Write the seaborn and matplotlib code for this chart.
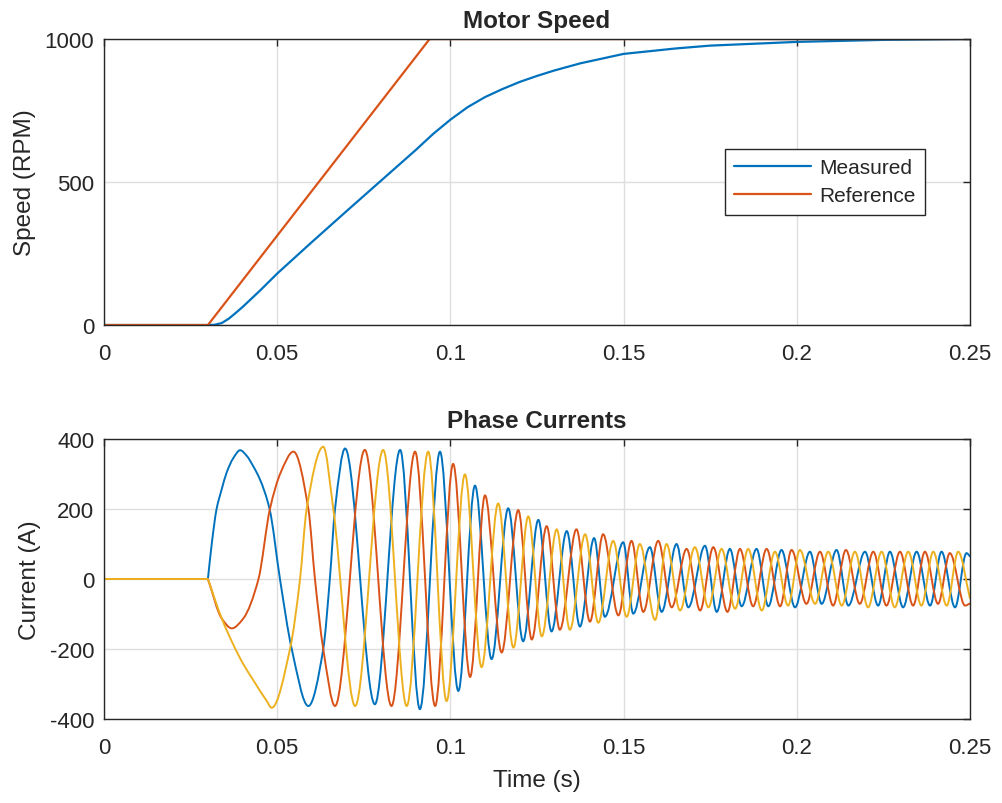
import numpy as np
import pandas as pd
import matplotlib
matplotlib.use("Agg")
import matplotlib.pyplot as plt
from matplotlib.path import Path
from matplotlib.patches import PathPatch
import seaborn as sns

# --- motor speed (RPM) ---
ref_t = [0.0, 0.030, 0.094, 0.25]
ref_speed = [0, 0, 1000, 1000]

meas_t = [0.0, 0.030, 0.032, 0.034, 0.036, 0.038, 0.040, 0.045, 0.050, 0.060, 0.070,
          0.080, 0.090, 0.095, 0.100, 0.105, 0.110, 0.115, 0.120, 0.125, 0.130,
          0.1375, 0.150, 0.165, 0.175, 0.200, 0.225, 0.250]
meas_speed = [0, 0, 1, 7, 22, 42, 63, 120, 180, 290, 398,
              505, 612, 668, 718, 762, 797, 825, 850, 871, 890,
              915, 948, 967, 977, 990, 997, 1000]

# --- phase currents (A): start, turning points and a few grid crossings ---
ia_t = [0.0, 0.0300, 0.0311, 0.0325, 0.0340, 0.0354, 0.0373, 0.0393, 0.0412, 0.0431,
        0.0450, 0.0478, 0.0508, 0.0542, 0.0590,
        0.0633, 0.0652, 0.0667, 0.0696, 0.0782, 0.0855, 0.0912, 0.0970, 0.1023,
        0.1071, 0.1119, 0.1167, 0.1210, 0.1254, 0.1292, 0.1336, 0.1374, 0.1415,
        0.1446, 0.1499, 0.1528, 0.1576, 0.1610, 0.1653, 0.1687, 0.1735, 0.1769,
        0.1807, 0.1841, 0.1884, 0.1918, 0.1956, 0.1995, 0.2038, 0.2072, 0.2115,
        0.2149, 0.2197, 0.2235, 0.2269, 0.2307, 0.2346, 0.2385, 0.2418, 0.2457,
        0.2490, 0.2500]
ia = [0, 0, 100, 200, 257, 304, 345, 368, 352, 322,
      285, 200, 0, -200, -363,
      -200, 0, 200, 373, -358, 369, -372, 364, -320,
      267, -229, 202, -178, 169, -150, 137, -136, 117,
      -108, 105, -99, 91, -94, 100, -81, 95, -94,
      86, -78, 86, -78, 83, -81, 78, -71, 83,
      -76, 78, -76, 78, -81, 78, -76, 78, -81,
      74, 65]

ib_t = [0.0, 0.0300, 0.0340, 0.0369, 0.0402, 0.0446, 0.0479, 0.0510, 0.0547, 0.0590,
        0.0609, 0.0633, 0.0667, 0.0753, 0.0830, 0.0898, 0.0956, 0.1008, 0.1057,
        0.1100, 0.1148, 0.1196, 0.1235, 0.1278, 0.1316, 0.1364, 0.1403, 0.1441,
        0.1485, 0.1523, 0.1557, 0.1600, 0.1639, 0.1682, 0.1721, 0.1759, 0.1800,
        0.1836, 0.1874, 0.1913, 0.1952, 0.1985, 0.2028, 0.2067, 0.2105, 0.2142,
        0.2182, 0.2221, 0.2259, 0.2298, 0.2336, 0.2370, 0.2408, 0.2442, 0.2486,
        0.2500]
ib = [0, 0, -113, -141, -113, 0, 200, 304, 364, 200,
      0, -200, -363, 369, -363, 364, -363, 329, -280,
      239, -210, 197, -173, 151, -145, 142, -122, 128,
      -104, 109, -94, 109, -81, 86, -90, 91, -94,
      86, -78, 86, -78, 83, -71, 78, -76, 83,
      -71, 78, -76, 78, -76, 78, -71, 74, -76,
      -70]

ic_t = [0.0, 0.0300, 0.0340, 0.0373, 0.0402, 0.0431, 0.0470, 0.0484, 0.0537, 0.0566,
        0.0585, 0.0633,
        0.0662, 0.0725, 0.0806, 0.0874, 0.0936, 0.0989, 0.1042, 0.1090, 0.1138,
        0.1182, 0.1225, 0.1264, 0.1307, 0.1345, 0.1389, 0.1427, 0.1470, 0.1509,
        0.1547, 0.1591, 0.1624, 0.1663, 0.1706, 0.1745, 0.1783, 0.1822, 0.1860,
        0.1899, 0.1937, 0.1975, 0.2009, 0.2053, 0.2091, 0.2130, 0.2168, 0.2206,
        0.2245, 0.2283, 0.2322, 0.2360, 0.2394, 0.2433, 0.2466, 0.2500]
ic = [0, 0, -113, -187, -243, -289, -349, -368, -200, 0,
      200, 378,
      200, -363, 369, -363, 364, -349, 299, -252, 216,
      -196, 179, -164, 142, -145, 128, -125, 109, -108,
      100, -117, 100, -90, 91, -81, 86, -85, 86,
      -90, 78, -76, 83, -71, 78, -76, 78, -81,
      78, -81, 78, -76, 78, -76, 78, -55]

x_ticks = [0, 0.05, 0.1, 0.15, 0.2, 0.25]
x_labels = ["0", "0.05", "0.1", "0.15", "0.2", "0.25"]

blue = "#0072BD"
orange = "#D95319"
yellow = "#EDB120"
dark = "#262626"


def smooth_trace(ax, t, v, color, lw):
    # straight lead-in (flat part), then a smooth curve through the read points
    # (Bezier segments with monotone-cubic tangents, flat at the turning points)
    t = np.asarray(t, float)
    v = np.asarray(v, float)
    tt, vv = t[1:], v[1:]
    h = np.diff(tt)
    d = np.diff(vv) / h
    m = np.zeros_like(vv)
    m[0] = d[0]
    m[-1] = d[-1]
    for k in range(1, len(vv) - 1):
        if d[k - 1] * d[k] > 0:
            w1 = 2 * h[k] + h[k - 1]
            w2 = h[k] + 2 * h[k - 1]
            m[k] = (w1 + w2) / (w1 / d[k - 1] + w2 / d[k])
    verts = [(t[0], v[0]), (tt[0], vv[0])]
    codes = [Path.MOVETO, Path.LINETO]
    for k in range(len(h)):
        verts += [(tt[k] + h[k] / 3, vv[k] + m[k] * h[k] / 3),
                  (tt[k + 1] - h[k] / 3, vv[k + 1] - m[k + 1] * h[k] / 3),
                  (tt[k + 1], vv[k + 1])]
        codes += [Path.CURVE4] * 3
    ax.add_patch(PathPatch(Path(verts, codes), facecolor="none", edgecolor=color,
                           linewidth=lw, capstyle="round", joinstyle="round"))


sns.set_style("white")
plt.rcParams['font.family'] = ['Liberation Sans', 'DejaVu Sans']
plt.rcParams['axes.unicode_minus'] = False
plt.rcParams['text.color'] = dark
plt.rcParams['axes.labelcolor'] = dark
plt.rcParams['xtick.color'] = dark
plt.rcParams['ytick.color'] = dark

fig = plt.figure(figsize=(10.02, 8.04), dpi=100)
ax1 = fig.add_axes([0.1038, 0.5945, 0.8642, 0.3557])
ax2 = fig.add_axes([0.1038, 0.1045, 0.8642, 0.3482])

# Motor speed
sns.lineplot(x=meas_t, y=meas_speed, ax=ax1, color=blue, linewidth=1.6, label="Measured")
sns.lineplot(x=ref_t, y=ref_speed, ax=ax1, color=orange, linewidth=1.6, label="Reference")
ax1.set_ylim(0, 1000)
ax1.set_yticks([0, 500, 1000])
ax1.set_title("Motor Speed", fontsize=17.5, fontweight="bold", pad=9)
ax1.set_ylabel("Speed (RPM)", fontsize=17.5, labelpad=6)
ax1.set_xlabel("")
ax1.legend(loc="upper left", bbox_to_anchor=(0.717, 0.617), fontsize=15,
           handlelength=3.7, fancybox=False, framealpha=1, edgecolor=dark,
           borderpad=0.45, labelspacing=0.45, handletextpad=0.4, borderaxespad=0)

# Phase currents
smooth_trace(ax2, ia_t, ia, blue, 1.4)
smooth_trace(ax2, ib_t, ib, orange, 1.4)
smooth_trace(ax2, ic_t, ic, yellow, 1.4)
ax2.set_ylim(-400, 400)
ax2.set_yticks([-400, -200, 0, 200, 400])
ax2.set_title("Phase Currents", fontsize=17.5, fontweight="bold", pad=9)
ax2.set_ylabel("Current (A)", fontsize=17.5, labelpad=6)
ax2.set_xlabel("Time (s)", fontsize=17.5, labelpad=8)

for ax in (ax1, ax2):
    ax.set_xlim(0, 0.25)
    ax.set_xticks(x_ticks)
    ax.set_xticklabels(x_labels)
    ax.grid(True, color="#dedede", linewidth=1)
    ax.tick_params(direction="in", length=5, width=1, top=True, right=True,
                   labelsize=16, pad=7)
    ax.tick_params(axis="x", pad=13)
    for s in ax.spines.values():
        s.set_color(dark)
        s.set_linewidth(1)

fig.savefig("out.png", dpi=100, facecolor="white")
